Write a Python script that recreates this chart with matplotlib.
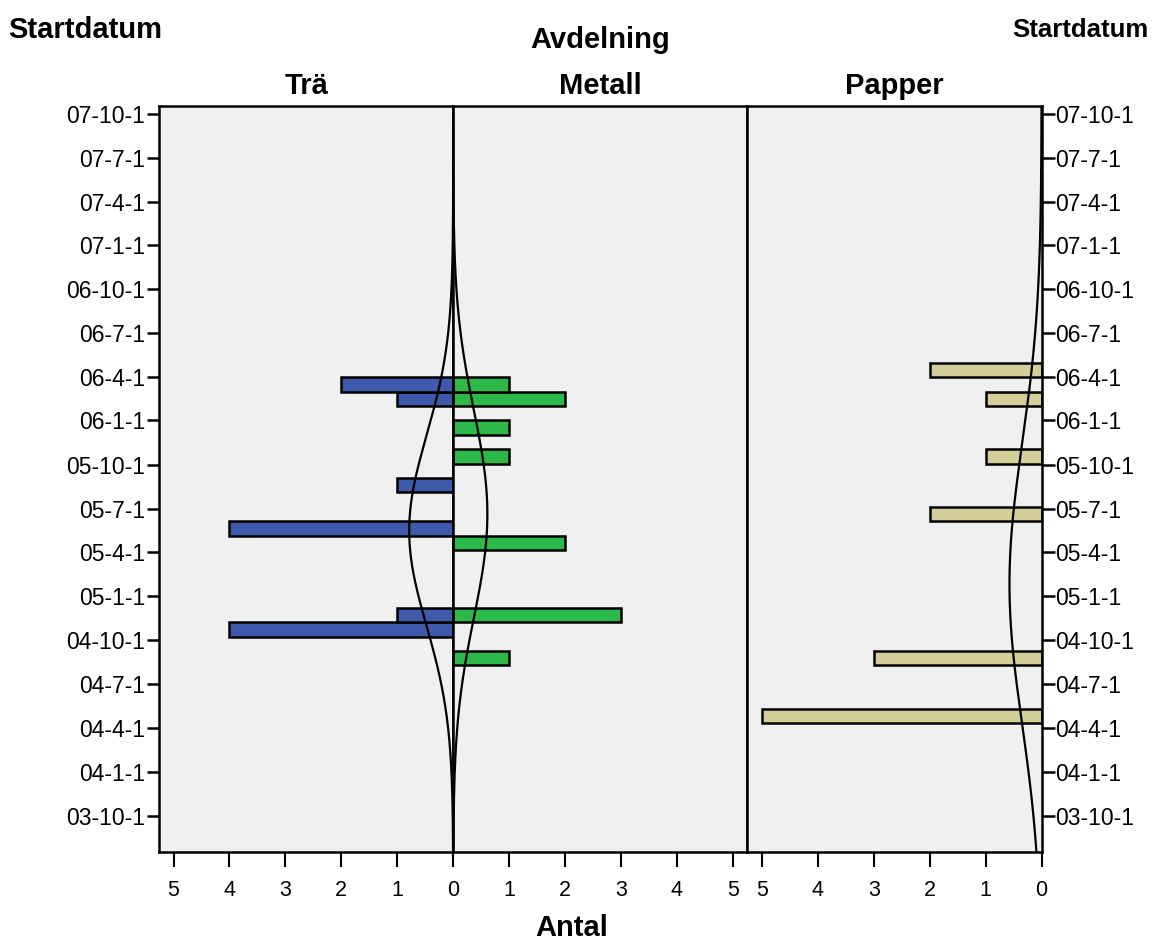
import numpy as np
import matplotlib
matplotlib.use('Agg')
import matplotlib.pyplot as plt
import matplotlib.dates as mdates
from matplotlib.ticker import FixedLocator, FuncFormatter
import datetime as dt

plt.rcParams['font.family'] = ['Liberation Sans', 'DejaVu Sans']

# histogram bins: 30-day bins, first bin starts 2004-04-11
bin_start = dt.date(2004, 4, 11)
bin_days = 30
# counts per bin, from the lowest bin upward
tra = [0, 0, 0, 0, 0, 0, 4, 1, 0, 0, 0, 0, 0, 4, 0, 0, 1, 0, 0, 0, 0, 0, 1, 2, 0]
metall = [0, 0, 0, 0, 1, 0, 0, 3, 0, 0, 0, 0, 2, 0, 0, 0, 0, 0, 1, 0, 1, 0, 2, 1, 0]
papper = [5, 0, 0, 0, 3, 0, 0, 0, 0, 0, 0, 0, 0, 0, 2, 0, 0, 0, 1, 0, 0, 0, 1, 0, 2]

panels = ['Trä', 'Metall', 'Papper']
colors = ['#3F59AB', '#2DB84A', '#D4CF99']
counts_all = [tra, metall, papper]

tick_dates = [dt.date(2003, 10, 1), dt.date(2004, 1, 1), dt.date(2004, 4, 1), dt.date(2004, 7, 1),
              dt.date(2004, 10, 1), dt.date(2005, 1, 1), dt.date(2005, 4, 1), dt.date(2005, 7, 1),
              dt.date(2005, 10, 1), dt.date(2006, 1, 1), dt.date(2006, 4, 1), dt.date(2006, 7, 1),
              dt.date(2006, 10, 1), dt.date(2007, 1, 1), dt.date(2007, 4, 1), dt.date(2007, 7, 1),
              dt.date(2007, 10, 1)]

base = mdates.date2num(dt.date(2003, 10, 1))
y_lo = base - 75.6
y_hi = base + 1477.6
xmax = 5.26

edges = mdates.date2num(bin_start) + bin_days * np.arange(len(tra) + 1)
centers = edges[:-1] + bin_days / 2

def fmt(v, pos):
    d = mdates.num2date(v)
    return '%02d-%d-%d' % (d.year % 100, d.month, d.day)

W, H = 1153, 940
fig = plt.figure(figsize=(W / 100, H / 100), dpi=100)
left_px, right_px, top_px, bot_px = 159, 1041.6, 106, 852
pw = (right_px - left_px) / 3

yy = np.linspace(y_lo, y_hi, 600)
axes = []
for i, name in enumerate(panels):
    ax = fig.add_axes([(left_px + i * pw) / W, (H - bot_px) / H, pw / W, (bot_px - top_px) / H])
    axes.append(ax)
    ax.set_facecolor('#F0F0F0')
    c = np.array(counts_all[i])
    ax.barh(edges[:-1][c > 0], c[c > 0], height=bin_days, align='edge',
            color=colors[i], edgecolor='black', linewidth=1.8, zorder=2)
    # normal curve fitted to the binned data
    n = c.sum()
    vals = np.repeat(centers, c)
    mu = vals.mean()
    sd = vals.std(ddof=1)
    curve = n * bin_days / (sd * np.sqrt(2 * np.pi)) * np.exp(-0.5 * ((yy - mu) / sd) ** 2)
    ax.plot(curve, yy, color='black', lw=1.6, zorder=3)

    ax.set_ylim(y_lo, y_hi)
    if i == 1:
        ax.set_xlim(0, xmax)
        ax.set_xticks([1, 2, 3, 4, 5])
    else:
        ax.set_xlim(xmax, 0)
        ax.set_xticks([5, 4, 3, 2, 1, 0])
    for s in ax.spines.values():
        s.set_linewidth(1.8)
        s.set_zorder(4)
    ax.tick_params(axis='x', length=11, width=1.5, pad=9, labelsize=15.5)
    ax.yaxis.set_major_locator(FixedLocator(mdates.date2num(tick_dates)))
    ax.yaxis.set_major_formatter(FuncFormatter(fmt))
    if i == 0:
        ax.tick_params(axis='y', length=9, width=1.8, pad=1, labelsize=16.5)
    elif i == 2:
        ax.yaxis.tick_right()
        ax.tick_params(axis='y', length=9, width=1.8, pad=1, labelsize=16.5)
    else:
        ax.tick_params(axis='y', left=False, labelleft=False)

    fig.text((left_px + (i + 0.5) * pw) / W, 1 - 86 / H, name, ha='center', va='center',
             fontsize=21, fontweight='bold')

fig.text(8 / W, 1 - 30 / H, 'Startdatum', ha='left', va='center', fontsize=21, fontweight='bold')
fig.text(1148 / W, 1 - 30 / H, 'Startdatum', ha='right', va='center', fontsize=18.5, fontweight='bold')
fig.text(600 / W, 1 - 40 / H, 'Avdelning', ha='center', va='center', fontsize=21, fontweight='bold')
fig.text(572 / W, 1 - 928 / H, 'Antal', ha='center', va='center', fontsize=21, fontweight='bold')

fig.savefig('out.png', dpi=100, facecolor='white')
